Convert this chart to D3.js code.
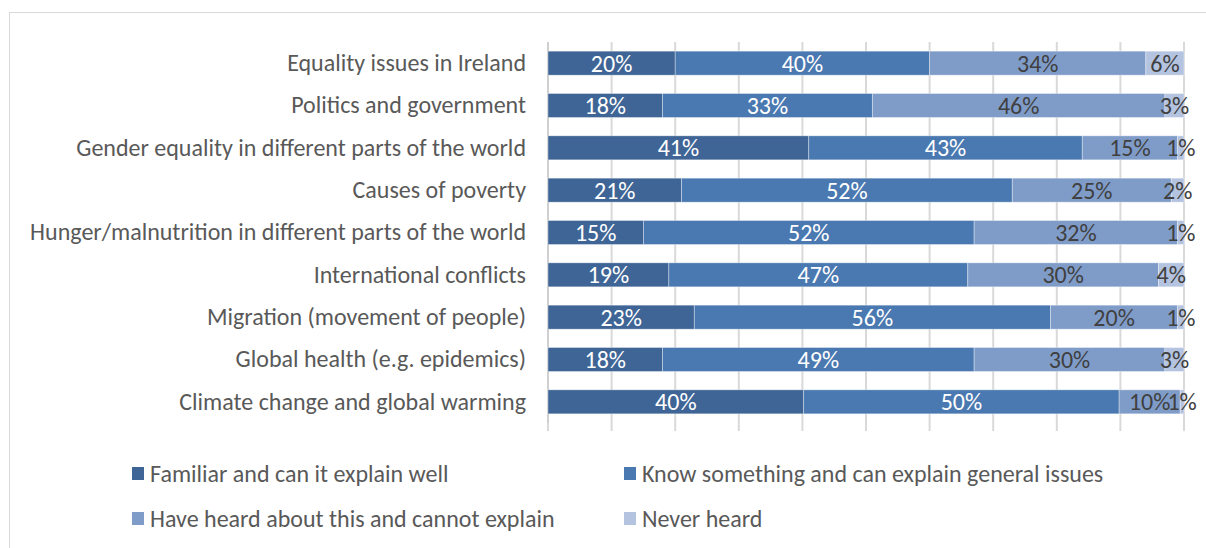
<!DOCTYPE html>
<html>
<head>
<meta charset="utf-8">
<script src="https://cdn.jsdelivr.net/npm/d3@7"></script>
<style>
  html, body { margin: 0; padding: 0; background: #fff; }
  svg { display: block; font-family: Carlito, Calibri, "Liberation Sans", Arial, sans-serif; }
</style>
</head>
<body>
<svg id="chart" width="1206" height="548"></svg>
<script>
// Topics, top to bottom
const topics = [
  "Equality issues in Ireland",
  "Politics and government",
  "Gender equality in different parts of the world",
  "Causes of poverty",
  "Hunger/malnutrition in different parts of the world",
  "International conflicts",
  "Migration (movement of people)",
  "Global health (e.g. epidemics)",
  "Climate change and global warming"
];

const seriesNames = [
  "Familiar and can it explain well",
  "Know something and can explain general issues",
  "Have heard about this and cannot explain",
  "Never heard"
];

// Share of respondents (%) per topic, one array per answer
const familiar = [20, 18, 41, 21, 15, 19, 23, 18, 40.2];
const knowSomething = [40, 33, 43, 52, 52, 47, 56, 49, 49.6];
const heardCannotExplain = [34, 46, 15, 25, 32, 30, 20, 30, 9.6];
const neverHeard = [6, 3, 1, 2, 1, 4, 1, 3, 0.6];

const xTicks = [0, 10, 20, 30, 40, 50, 60, 70, 80, 90, 100];

const colors = ["#3E6595", "#4A78B0", "#7F9CC9", "#B4C3DF"];
const labelColors = ["#ffffff", "#ffffff", "#404040", "#404040"];
const FONT_SIZE = 24;

const rows = topics.map((t, i) => ({
  topic: t,
  [seriesNames[0]]: familiar[i],
  [seriesNames[1]]: knowSomething[i],
  [seriesNames[2]]: heardCannotExplain[i],
  [seriesNames[3]]: neverHeard[i]
}));

const svg = d3.select("#chart");

// Outer chart frame
svg.append("rect")
  .attr("x", 9.5).attr("y", 12.5)
  .attr("width", 1300).attr("height", 700)
  .attr("fill", "none").attr("stroke", "#d9d9d9").attr("stroke-width", 1);

const plot = { left: 548, right: 1184, top: 42, bottom: 423 };

const x = d3.scaleLinear().domain([0, 100]).range([plot.left, plot.right]);
const y = d3.scaleBand().domain(topics).range([plot.top, plot.bottom])
  .paddingInner(0.433).paddingOuter(0.2165);

// Vertical gridlines
svg.append("g")
  .selectAll("line")
  .data(xTicks)
  .join("line")
  .attr("x1", d => x(d)).attr("x2", d => x(d))
  .attr("y1", plot.top).attr("y2", plot.bottom + 8)
  .attr("stroke", "#d9d9d9").attr("stroke-width", 2);

// Category axis line
svg.append("line")
  .attr("x1", plot.left).attr("x2", plot.left)
  .attr("y1", plot.top).attr("y2", plot.bottom)
  .attr("stroke", "#d0d0d0").attr("stroke-width", 2);

// Category labels via axis
const yAxis = svg.append("g")
  .attr("transform", `translate(${plot.left - 22},0)`)
  .call(d3.axisLeft(y).tickSize(0).tickPadding(0));
yAxis.select(".domain").remove();
yAxis.selectAll("text")
  .attr("fill", "#595959")
  .attr("font-size", FONT_SIZE)
  .attr("font-family", "Carlito, Calibri, 'Liberation Sans', Arial, sans-serif");

const stack = d3.stack().keys(seriesNames);
const stacked = stack(rows);

const fmt = d3.format(".0f");

const layers = svg.append("g")
  .selectAll("g")
  .data(stacked)
  .join("g")
  .attr("fill", (d, i) => colors[i]);

layers.selectAll("rect")
  .data(d => d)
  .join("rect")
  .attr("x", d => x(d[0]))
  .attr("y", d => y(d.data.topic))
  .attr("width", d => x(d[1]) - x(d[0]))
  .attr("height", y.bandwidth())
  .attr("stroke", "#ffffff")
  .attr("stroke-opacity", 0.45)
  .attr("stroke-width", 0.8);

// Value labels
svg.append("g")
  .selectAll("g")
  .data(stacked)
  .join("g")
  .attr("fill", (d, i) => labelColors[i])
  .selectAll("text")
  .data(d => d)
  .join("text")
  .attr("x", d => (x(d[0]) + x(d[1])) / 2)
  .attr("y", d => y(d.data.topic) + y.bandwidth() / 2)
  .attr("dy", "0.35em")
  .attr("text-anchor", "middle")
  .attr("font-size", FONT_SIZE)
  .text(d => fmt(d[1] - d[0]) + "%");

// Legend
const legendItems = [
  { name: seriesNames[0], color: colors[0], x: 132, y: 474 },
  { name: seriesNames[1], color: colors[1], x: 624, y: 474 },
  { name: seriesNames[2], color: colors[2], x: 132, y: 519 },
  { name: seriesNames[3], color: colors[3], x: 624, y: 519 }
];
const lg = svg.append("g").selectAll("g").data(legendItems).join("g")
  .attr("transform", d => `translate(${d.x},${d.y})`);
lg.append("rect")
  .attr("x", 0).attr("y", -7).attr("width", 12).attr("height", 13)
  .attr("fill", d => d.color);
lg.append("text")
  .attr("x", 18).attr("dy", "0.35em")
  .attr("fill", "#595959")
  .attr("font-size", FONT_SIZE)
  .text(d => d.name);
</script>
</body>
</html>
